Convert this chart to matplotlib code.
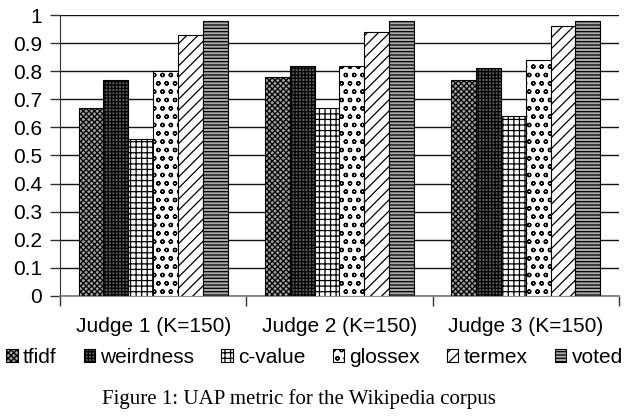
import numpy as np
import matplotlib.pyplot as plt

plt.rcParams['font.family'] = ['Liberation Sans', 'DejaVu Sans']
plt.rcParams['hatch.linewidth'] = 0.9

# data
groups = ["Judge 1 (K=150)", "Judge 2 (K=150)", "Judge 3 (K=150)"]
methods = ["tfidf", "weirdness", "c-value", "glossex", "termex", "voted"]
tfidf = [0.67, 0.78, 0.77]
weirdness = [0.77, 0.82, 0.81]
cvalue = [0.56, 0.67, 0.64]
glossex = [0.80, 0.82, 0.84]
termex = [0.93, 0.94, 0.96]
voted = [0.98, 0.98, 0.98]
series = [tfidf, weirdness, cvalue, glossex, termex, voted]

# bar styles (face colour, hatch) imitating the old Excel fills
styles = [
    ("#a0a0a0", "xxxxxx"),
    ("#5a5a5a", "+++++"),
    ("white", "+++"),
    ("white", "oo"),
    ("white", "///"),
    ("#a8a8a8", "-----"),
]

fig = plt.figure(figsize=(6.29, 4.18), dpi=100)
ax = fig.add_axes([0.0954, 0.292, 0.8886, 0.672])

width = 1 / 7.5
x = np.arange(len(groups))
for i, (vals, (fc, h)) in enumerate(zip(series, styles)):
    ax.bar(x + 0.1 + i * width, vals, width, align="edge", color=fc,
           edgecolor="black", linewidth=0.8, hatch=h, label=methods[i], zorder=3)

ax.set_xlim(0, 3)
ax.set_ylim(0, 1)
ax.set_yticks(np.arange(0, 1.01, 0.1))
ax.set_yticklabels(["0", "0.1", "0.2", "0.3", "0.4", "0.5", "0.6", "0.7", "0.8", "0.9", "1"])
ax.yaxis.grid(True, color="#111111", linewidth=1.0, zorder=0)

# boundaries as major ticks, group names on minor ticks
ax.set_xticks([0, 1, 2, 3])
ax.set_xticklabels([])
ax.set_xticks(x + 0.5, minor=True)
ax.set_xticklabels(groups, minor=True)
ax.tick_params(axis="x", which="major", length=7, width=1, color="#333333")
ax.tick_params(axis="x", which="minor", length=0, pad=15, labelsize=15)
ax.tick_params(axis="y", length=7, width=1, pad=6, labelsize=15, color="#333333")

for s in ["top", "right"]:
    ax.spines[s].set_visible(False)
ax.spines["left"].set_color("#333333")
ax.spines["bottom"].set_color("#777777")
ax.spines["bottom"].set_linewidth(1.2)

fig.legend(loc="center", bbox_to_anchor=(0.50, 0.145), ncol=6, frameon=False,
           fontsize=15, handlelength=0.55, handleheight=0.55, handletextpad=0.25,
           columnspacing=1.3, borderaxespad=0)

fig.text(0.475, 0.045, "Figure 1: UAP metric for the Wikipedia corpus",
         ha="center", va="center", fontsize=15, family="Liberation Serif")

fig.savefig("out.png", dpi=100)
